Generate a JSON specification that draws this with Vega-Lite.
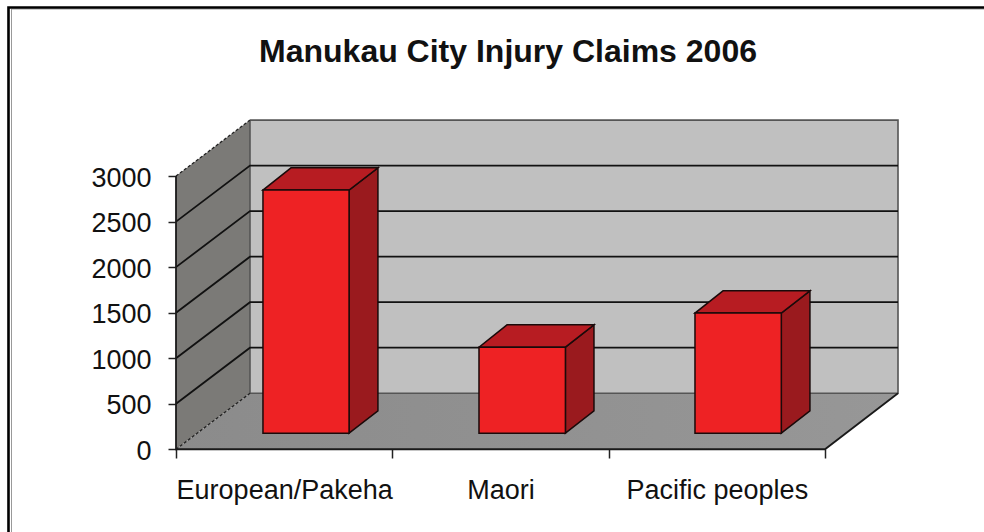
{
"$schema":"https://vega.github.io/schema/vega-lite/v6.json",
"width":976,"height":525,
"autosize":{"type":"none"},
"padding":{"left":8,"top":7,"right":0,"bottom":0},
"background":"#ffffff",
"title":{"text":"Manukau City Injury Claims 2006","font":"Liberation Sans","fontSize":32,"fontWeight":"bold","color":"#111111","anchor":"middle","dx":12,"offset":-67},
"config":{"view":{"stroke":null}},
"datasets":{
"wall_faces":[
{"wall":"side","across":0,"low":0,"high":3000},
{"wall":"side","across":0.342,"low":615,"high":3615}],
"back_faces":[
{"wall":"back","across":0.342,"low":615,"high":3615},
{"wall":"back","across":3.3375,"low":615,"high":3615}],
"floor_faces":[
{"level":0,"from":0,"to":3},
{"level":615,"from":0.342,"to":3.3375}],
"grid_lines":[
{"line":"g500","step":1,"across":0,"level":500},{"line":"g500","step":2,"across":0.342,"level":1115},{"line":"g500","step":3,"across":3.3375,"level":1115},
{"line":"g1000","step":1,"across":0,"level":1000},{"line":"g1000","step":2,"across":0.342,"level":1615},{"line":"g1000","step":3,"across":3.3375,"level":1615},
{"line":"g1500","step":1,"across":0,"level":1500},{"line":"g1500","step":2,"across":0.342,"level":2115},{"line":"g1500","step":3,"across":3.3375,"level":2115},
{"line":"g2000","step":1,"across":0,"level":2000},{"line":"g2000","step":2,"across":0.342,"level":2615},{"line":"g2000","step":3,"across":3.3375,"level":2615},
{"line":"g2500","step":1,"across":0,"level":2500},{"line":"g2500","step":2,"across":0.342,"level":3115},{"line":"g2500","step":3,"across":3.3375,"level":3115}],
"dashed_edges":[
{"line":"top","step":1,"across":0,"level":3000},{"line":"top","step":2,"across":0.342,"level":3615},
{"line":"bottom","step":1,"across":0,"level":0},{"line":"bottom","step":2,"across":0.342,"level":615}],
"back_edges":[
{"line":"b","step":1,"across":0.342,"level":3615},{"line":"b","step":2,"across":3.3375,"level":3615},{"line":"b","step":3,"across":3.3375,"level":615},{"line":"b","step":4,"across":0.342,"level":615},{"line":"b","step":5,"across":0.342,"level":3615}],
"front_edges":[
{"line":"f","step":1,"across":0,"level":3000},{"line":"f","step":2,"across":0,"level":0},{"line":"f","step":3,"across":3,"level":0},{"line":"f","step":4,"across":3.3375,"level":615}],
"frame_outer":[
{"line":"o","step":1,"across":-0.7743,"level":-909},{"line":"o","step":2,"across":-0.7743,"level":4851},{"line":"o","step":3,"across":3.735,"level":4851}],
"frame_inner":[
{"line":"i","step":1,"across":-0.7604,"level":-909},{"line":"i","step":2,"across":-0.7604,"level":4835},{"line":"i","step":3,"across":3.735,"level":4835}],
"bar_fronts":[
{"category":"European/Pakeha","claims":2670,"across":0.402,"low":176,"high":2846},{"category":"European/Pakeha","claims":2670,"across":0.8,"low":176,"high":2846},
{"category":"Maori","claims":945,"across":1.4006,"low":176,"high":1121},{"category":"Maori","claims":945,"across":1.8,"low":176,"high":1121},
{"category":"Pacific peoples","claims":1319,"across":2.399,"low":176,"high":1495},{"category":"Pacific peoples","claims":1319,"across":2.798,"low":176,"high":1495}],
"bar_sides":[
{"category":"European/Pakeha","across":0.8,"low":176,"high":2846},{"category":"European/Pakeha","across":0.9334,"low":421,"high":3091},
{"category":"Maori","across":1.8,"low":176,"high":1121},{"category":"Maori","across":1.9321,"low":421,"high":1366},
{"category":"Pacific peoples","across":2.798,"low":176,"high":1495},{"category":"Pacific peoples","across":2.9304,"low":421,"high":1740}],
"bar_tops":[
{"category":"European/Pakeha","level":2846,"from":0.402,"to":0.8},{"category":"European/Pakeha","level":3091,"from":0.5314,"to":0.9334},
{"category":"Maori","level":1121,"from":1.4006,"to":1.8},{"category":"Maori","level":1366,"from":1.53,"to":1.9321},
{"category":"Pacific peoples","level":1495,"from":2.399,"to":2.798},{"category":"Pacific peoples","level":1740,"from":2.5284,"to":2.9304}]
},
"layer":[
{"data":{"name":"wall_faces"},"mark":{"type":"area","fill":"#7b7a77"},
"encoding":{
"x":{"field":"across","type":"quantitative","title":null,"scale":{"domain":[-0.7766,3.735],"nice":false,"zero":false},
"axis":{"title":null,"grid":false,"domain":false,"orient":"bottom","offset":-83,"values":[0,0.5,1,1.5,2,2.5,3],
"tickColor":"#222222","tickSize":9,"tickWidth":1.5,
"tickOpacity":{"condition":{"test":"datum.value % 1 != 0","value":0},"value":1},
"labelExpr":"datum.value==0.5?'European/Pakeha':datum.value==1.5?'Maori':datum.value==2.5?'Pacific peoples':''",
"labelFont":"Liberation Sans","labelFontSize":27,"labelLimit":400,"labelColor":"#111111","labelPadding":19,"labelOverlap":false,"labelFlush":false}},
"y":{"field":"low","type":"quantitative","title":null,"scale":{"domain":[-909,4857],"nice":false,"zero":false},
"axis":{"title":null,"grid":false,"domain":false,"offset":-168,"values":[0,500,1000,1500,2000,2500,3000],
"tickColor":"#222222","tickSize":8,"tickWidth":1.5,"format":"d",
"labelFont":"Liberation Sans","labelFontSize":27,"labelColor":"#111111","labelPadding":17,"labelOffset":2,"labelOverlap":false,"labelFlush":false}},
"y2":{"field":"high"}}},
{"data":{"name":"back_faces"},"mark":{"type":"area","fill":"#c0c0c0"},
"encoding":{"x":{"field":"across","type":"quantitative","title":null},"y":{"field":"low","type":"quantitative","title":null},"y2":{"field":"high"}}},
{"data":{"name":"floor_faces"},"mark":{"type":"area","orient":"horizontal","fill":{"x1":0,"x2":1,"y1":0,"y2":0,"gradient":"linear","stops":[{"offset":0,"color":"#8b8b8b"},{"offset":1,"color":"#979797"}]}},
"encoding":{"y":{"field":"level","type":"quantitative","title":null},"x":{"field":"from","type":"quantitative","title":null},"x2":{"field":"to"}}},
{"data":{"name":"back_edges"},"mark":{"type":"line","stroke":"#555555","strokeWidth":1.6},
"encoding":{"x":{"field":"across","type":"quantitative","title":null},"y":{"field":"level","type":"quantitative","title":null},"detail":{"field":"line"},"order":{"field":"step"}}},
{"data":{"name":"grid_lines"},"mark":{"type":"line","stroke":"#111111","strokeWidth":1.8},
"encoding":{"x":{"field":"across","type":"quantitative","title":null},"y":{"field":"level","type":"quantitative","title":null},"detail":{"field":"line"},"order":{"field":"step"}}},
{"data":{"name":"dashed_edges"},"mark":{"type":"line","stroke":"#222222","strokeWidth":1.3,"strokeDash":[3,2]},
"encoding":{"x":{"field":"across","type":"quantitative","title":null},"y":{"field":"level","type":"quantitative","title":null},"detail":{"field":"line"},"order":{"field":"step"}}},
{"data":{"name":"front_edges"},"mark":{"type":"line","stroke":"#1a1a1a","strokeWidth":1.8},
"encoding":{"x":{"field":"across","type":"quantitative","title":null},"y":{"field":"level","type":"quantitative","title":null},"detail":{"field":"line"},"order":{"field":"step"}}},
{"data":{"name":"bar_sides"},"mark":{"type":"area","fill":"#9a1a1e","stroke":"#1a0a0a","strokeWidth":1.5},
"encoding":{"x":{"field":"across","type":"quantitative","title":null},"y":{"field":"low","type":"quantitative","title":null},"y2":{"field":"high"},"detail":{"field":"category"}}},
{"data":{"name":"bar_tops"},"mark":{"type":"area","orient":"horizontal","fill":"#b71c22","stroke":"#1a0a0a","strokeWidth":1.5},
"encoding":{"y":{"field":"level","type":"quantitative","title":null},"x":{"field":"from","type":"quantitative","title":null},"x2":{"field":"to"},"detail":{"field":"category"}}},
{"data":{"name":"bar_fronts"},"mark":{"type":"area","fill":"#ee2224","stroke":"#1a0a0a","strokeWidth":1.5},
"encoding":{"x":{"field":"across","type":"quantitative","title":null},"y":{"field":"low","type":"quantitative","title":null},"y2":{"field":"high"},"detail":{"field":"category"}}},
{"data":{"name":"frame_inner"},"mark":{"type":"line","stroke":"#999999","strokeWidth":1},
"encoding":{"x":{"field":"across","type":"quantitative","title":null},"y":{"field":"level","type":"quantitative","title":null},"detail":{"field":"line"},"order":{"field":"step"}}},
{"data":{"name":"frame_outer"},"mark":{"type":"line","stroke":"#000000","strokeWidth":2.6},
"encoding":{"x":{"field":"across","type":"quantitative","title":null},"y":{"field":"level","type":"quantitative","title":null},"detail":{"field":"line"},"order":{"field":"step"}}}
]
}
